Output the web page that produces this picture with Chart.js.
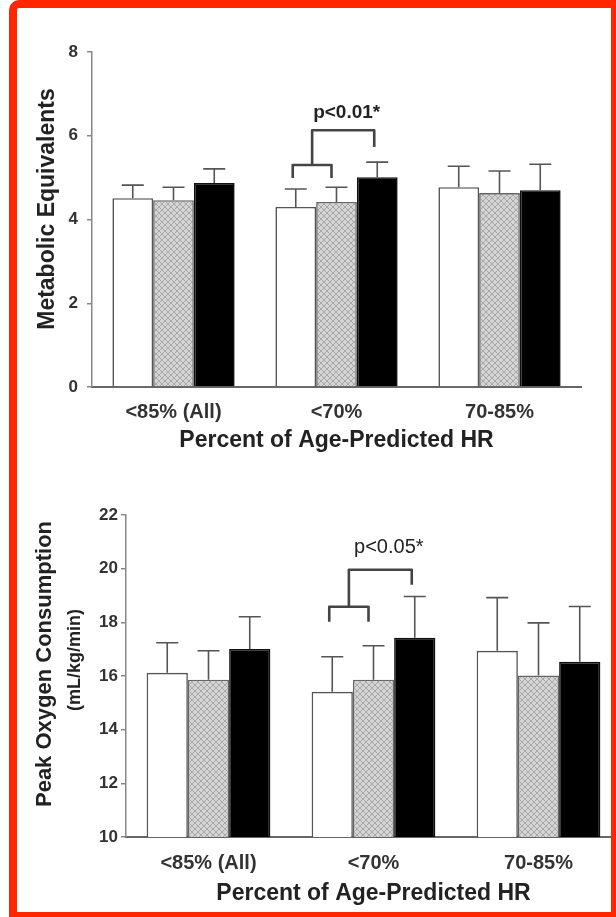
<!DOCTYPE html>
<html>
<head>
<meta charset="utf-8">
<title>METs and peak VO2 by percent of age-predicted HR</title>
<script src="https://cdn.jsdelivr.net/npm/chart.js@4.4.0/dist/chart.umd.min.js"></script>
<style>
    html, body { margin: 0; padding: 0; background: #fff; overflow: hidden; }
    body { width: 616px; height: 917px; position: relative; }
    #topWrap { position: absolute; left: 0; top: 0; width: 616px; height: 460px; }
    #bottomWrap { position: absolute; left: 0; top: 460px; width: 630px; height: 457px; }
    #frame {
        position: absolute; left: 9px; top: 0; width: 607px; height: 917px;
        box-sizing: border-box; border: solid #ff2600; border-width: 8px 5px 5px 8px;
        border-top-left-radius: 10px; pointer-events: none;
    }
</style>
</head>
<body>
<div id="topWrap"><canvas id="metsChart"></canvas></div>
<div id="bottomWrap"><canvas id="vo2Chart"></canvas></div>
<div id="frame"></div>

<script>
// Veriler
const categories = ['<85% (All)', '<70%', '70-85%'];

// Üst grafik: Metabolic Equivalents (beyaz / gri / siyah)
const metsWhite = [4.51, 4.30, 4.77];
const metsGray = [4.46, 4.42, 4.63];
const metsBlack = [4.87, 5.01, 4.70];
const metsWhiteErr = [0.31, 0.43, 0.50];
const metsGrayErr = [0.31, 0.35, 0.53];
const metsBlackErr = [0.34, 0.36, 0.62];
const metsTicks = [0, 2, 4, 6, 8];

// Alt grafik: Peak Oxygen Consumption (mL/kg/min)
const vo2White = [16.12, 15.41, 16.94];
const vo2Gray = [15.86, 15.86, 16.02];
const vo2Black = [17.01, 17.43, 16.53];
const vo2WhiteErr = [1.12, 1.31, 1.98];
const vo2GrayErr = [1.08, 1.27, 1.96];
const vo2BlackErr = [1.20, 1.53, 2.06];
const vo2Ticks = [10, 12, 14, 16, 18, 20, 22];

const FONT = "'Liberation Sans', Arial, Helvetica, sans-serif";

// Gri çubuklar için çapraz tarama deseni
function makeHatch() {
    const c = document.createElement('canvas');
    c.width = 6; c.height = 6;
    const g = c.getContext('2d');
    g.fillStyle = '#d4d4d4';
    g.fillRect(0, 0, 6, 6);
    g.strokeStyle = '#a8a8a8';
    g.lineWidth = 1;
    g.beginPath();
    g.moveTo(0, 0); g.lineTo(6, 6);
    g.moveTo(6, 0); g.lineTo(0, 6);
    g.stroke();
    return g.createPattern(c, 'repeat');
}
const hatch = makeHatch();

// Hata çubukları (sadece yukarı)
const errorBarPlugin = {
    id: 'errorBars',
    afterDatasetsDraw(chart, args, opts) {
        const ctx = chart.ctx;
        const y = chart.scales.y;
        ctx.save();
        ctx.strokeStyle = '#555';
        ctx.lineWidth = 1.6;
        chart.data.datasets.forEach((ds, i) => {
            const meta = chart.getDatasetMeta(i);
            meta.data.forEach((bar, j) => {
                const top = y.getPixelForValue(ds.data[j] + ds.errors[j]);
                ctx.beginPath();
                ctx.moveTo(bar.x, bar.y);
                ctx.lineTo(bar.x, top);
                ctx.moveTo(bar.x - 11, top);
                ctx.lineTo(bar.x + 11, top);
                ctx.stroke();
            });
        });
        ctx.restore();
    }
};

// Anlamlılık parantezi ve p değeri, eksen başlığı (dikey)
const bracketPlugin = {
    id: 'bracket',
    afterDraw(chart, args, opts) {
        const ctx = chart.ctx;
        const y = chart.scales.y;
        const b = opts.bracket;
        const xa = chart.getDatasetMeta(0).data[b.cat].x;
        const xb = chart.getDatasetMeta(1).data[b.cat].x;
        const xc = chart.getDatasetMeta(2).data[b.cat].x;
        const xm = (xa + xb) / 2;
        ctx.save();
        ctx.strokeStyle = '#444';
        ctx.lineWidth = 2.6;
        ctx.lineJoin = 'round';
        // küçük parantez
        ctx.beginPath();
        ctx.moveTo(xa - 3, y.getPixelForValue(b.smallEnd));
        ctx.lineTo(xa - 3, y.getPixelForValue(b.junction));
        ctx.lineTo(xb - 5, y.getPixelForValue(b.junction));
        ctx.lineTo(xb - 5, y.getPixelForValue(b.smallEnd));
        ctx.stroke();
        // büyük parantez
        ctx.beginPath();
        ctx.moveTo(xm - 4, y.getPixelForValue(b.junction));
        ctx.lineTo(xm - 4, y.getPixelForValue(b.top));
        ctx.lineTo(xc - 3, y.getPixelForValue(b.top));
        ctx.lineTo(xc - 3, y.getPixelForValue(b.bigEnd));
        ctx.stroke();
        // p değeri
        ctx.fillStyle = '#222';
        ctx.font = b.font;
        ctx.textAlign = 'center';
        ctx.textBaseline = 'middle';
        ctx.fillText(b.label, (xm + xc) / 2 + b.dx, y.getPixelForValue(b.text));
        // dikey eksen başlıkları
        opts.titles.forEach(t => {
            ctx.save();
            ctx.translate(t.x, t.y);
            ctx.rotate(-Math.PI / 2);
            ctx.font = t.font;
            ctx.fillStyle = '#222';
            ctx.textAlign = 'center';
            ctx.textBaseline = 'middle';
            ctx.fillText(t.text, 0, 0);
            ctx.restore();
        });
        ctx.restore();
    }
};

function makeDatasets(white, gray, black, wErr, gErr, bErr) {
    const common = { categoryPercentage: 0.75, barPercentage: 1.0, borderWidth: 1.6 };
    return [
        Object.assign({ label: 'A', data: white, errors: wErr, backgroundColor: '#ffffff', borderColor: '#555' }, common),
        Object.assign({ label: 'B', data: gray, errors: gErr, backgroundColor: hatch, borderColor: '#666' }, common),
        Object.assign({ label: 'C', data: black, errors: bErr, backgroundColor: '#000000', borderColor: '#111' }, common)
    ];
}

function buildChart(id, cfg) {
    return new Chart(document.getElementById(id), {
        type: 'bar',
        data: { labels: categories, datasets: cfg.datasets },
        plugins: [errorBarPlugin, bracketPlugin],
        options: {
            responsive: true,
            maintainAspectRatio: false,
            animation: false,
            layout: { padding: cfg.padding },
            plugins: {
                legend: { display: false },
                tooltip: { enabled: false },
                bracket: { bracket: cfg.bracket, titles: cfg.titles }
            },
            scales: {
                x: {
                    grid: { display: false, drawTicks: false },
                    border: { display: true, color: '#666', width: 2 },
                    ticks: { color: '#333', padding: cfg.xTickPad, font: { family: FONT, size: 20, weight: 'bold' } },
                    title: {
                        display: true,
                        text: 'Percent of Age-Predicted HR',
                        color: '#222',
                        font: { family: FONT, size: 23, weight: 'bold' },
                        padding: { top: 0, bottom: cfg.xTitlePad }
                    },
                    afterFit: s => { s.height = cfg.xHeight; }
                },
                y: {
                    min: cfg.ticks[0],
                    max: cfg.ticks[cfg.ticks.length - 1],
                    afterBuildTicks: s => { s.ticks = cfg.ticks.map(v => ({ value: v })); },
                    grid: { drawOnChartArea: false, drawTicks: true, tickLength: 5, color: '#888', lineWidth: 1.5 },
                    border: { color: '#888', width: 1.5 },
                    ticks: { color: '#333', padding: cfg.yTickPad, font: { family: FONT, size: 17, weight: 'bold' } },
                    afterFit: s => { s.width = cfg.yWidth; }
                }
            }
        }
    });
}

// Üst grafik
buildChart('metsChart', {
    datasets: makeDatasets(metsWhite, metsGray, metsBlack, metsWhiteErr, metsGrayErr, metsBlackErr),
    ticks: metsTicks,
    padding: { left: 0, right: 35, top: 52, bottom: 0 },
    yWidth: 92, xHeight: 73, xTickPad: 13, xTitlePad: 6, yTickPad: 9,
    bracket: { cat: 1, label: 'p<0.01*', text: 6.54, top: 6.13, bigEnd: 5.73, junction: 5.30, smallEnd: 4.99, dx: 0, font: 'bold 19px ' + FONT },
    titles: [{ text: 'Metabolic Equivalents', x: 48, y: 209, font: 'bold 23px ' + FONT }]
});

// Alt grafik
buildChart('vo2Chart', {
    datasets: makeDatasets(vo2White, vo2Gray, vo2Black, vo2WhiteErr, vo2GrayErr, vo2BlackErr),
    ticks: vo2Ticks,
    padding: { left: 0, right: 9, top: 55, bottom: 0 },
    yWidth: 126, xHeight: 80, xTickPad: 14, xTitlePad: 10, yTickPad: 3,
    bracket: { cat: 1, label: 'p<0.05*', text: 20.78, top: 19.96, bigEnd: 19.40, junction: 18.58, smallEnd: 18.02, dx: 5, font: '20px ' + FONT },
    titles: [
        { text: 'Peak Oxygen Consumption', x: 45, y: 204, font: 'bold 22px ' + FONT },
        { text: '(mL/kg/min)', x: 75, y: 200, font: 'bold 18px ' + FONT }
    ]
});
</script>
</body>
</html>
